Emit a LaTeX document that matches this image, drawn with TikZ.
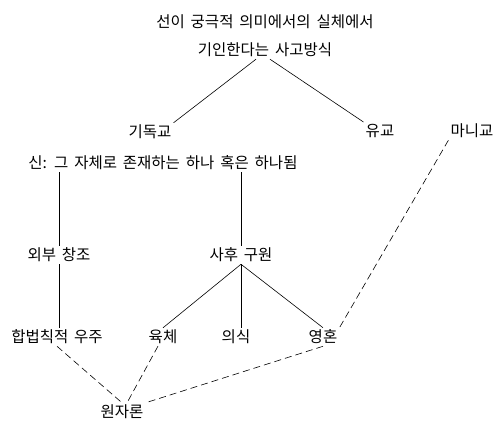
\documentclass[tikz,border=0pt]{standalone}
\usepackage{fontspec}
\newfontfamily\kr[WordSpace=1.7]{Noto Sans CJK KR}
\begin{document}
\begin{tikzpicture}[x=1pt, y=-1pt,
    every node/.style={font=\kr\fontsize{15.5}{28}\selectfont, inner sep=2pt},
    link/.style={line width=0.6pt},
    weak/.style={line width=0.6pt, dash pattern=on 7pt off 4pt}]
    \useasboundingbox (0,0) rectangle (504,430);
    \node[align=center] (top) at (265,36) {선이 궁극적 의미에서의 실체에서\\기인한다는 사고방식};
    \node (christ) at (150,132) {기독교};
    \node (confu) at (380,131) {유교};
    \node (mani) at (472,131) {마니교};
    \node (god) at (163,163) {신: 그 자체로 존재하는 하나 혹은 하나됨};
    \node (ext) at (59,255) {외부 창조};
    \node (salv) at (241,255) {사후 구원};
    \node (cosmos) at (57,337) {합법칙적 우주};
    \node (body) at (163,337) {육체};
    \node (mind) at (236,337) {의식};
    \node (soul) at (323,337) {영혼};
    \node (atom) at (122,412) {원자론};

    \path[link]
      ([xshift=-9pt]top.south) edge (christ.north east)
      ([xshift=5pt]top.south) edge (confu.north west)
      (god.south -| ext.north) edge (ext.north)
      (god.south -| salv.north) edge (salv.north)
      (ext.south) edge (ext.south |- cosmos.north)
      (salv.south) edge (body.north)
      (salv.south) edge (salv.south |- mind.north)
      (salv.south) edge (soul.north);
    \path[weak]
      (mani.south west) edge (soul.north east)
      (cosmos.south) edge (atom.north)
      (body) edge (atom)
      (soul.south) edge (atom.north east);
\end{tikzpicture}
\end{document}
